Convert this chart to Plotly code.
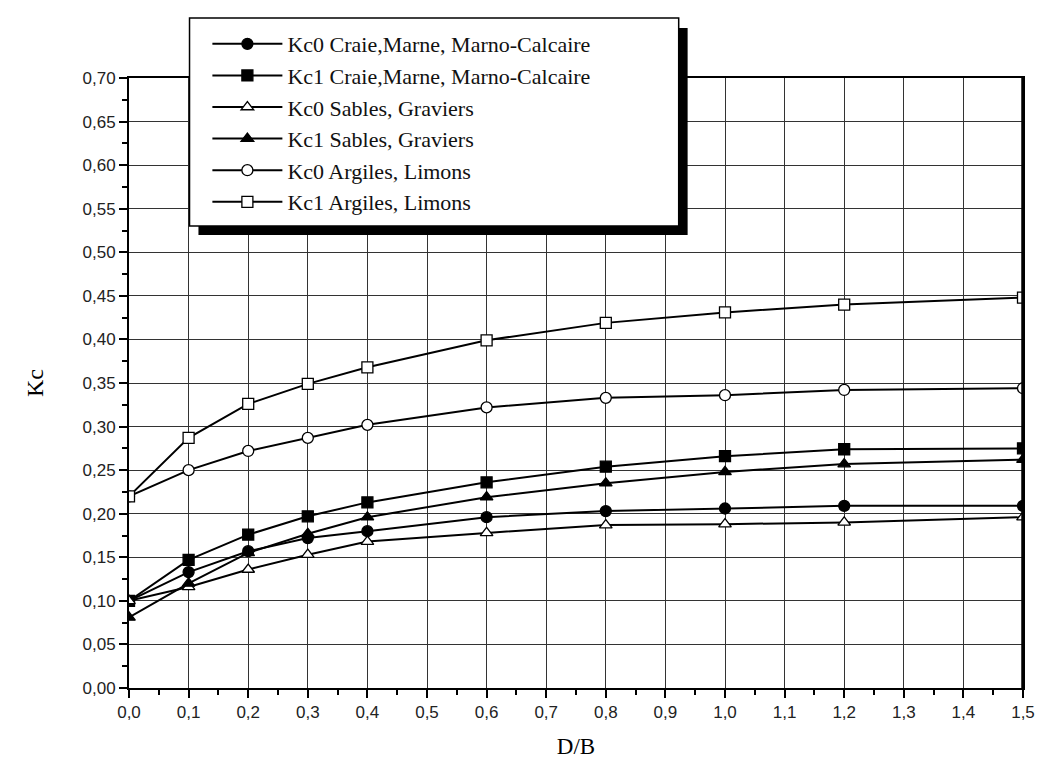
import plotly.graph_objects as go

x_db = [0.0, 0.1, 0.2, 0.3, 0.4, 0.6, 0.8, 1.0, 1.2, 1.5]

kc0_craie = [0.100, 0.133, 0.157, 0.172, 0.180, 0.196, 0.203, 0.206, 0.209, 0.209]
kc1_craie = [0.100, 0.147, 0.176, 0.197, 0.213, 0.236, 0.254, 0.266, 0.274, 0.275]
kc0_sables = [0.100, 0.116, 0.136, 0.153, 0.168, 0.178, 0.187, 0.188, 0.190, 0.196]
kc1_sables = [0.081, 0.120, 0.155, 0.177, 0.196, 0.219, 0.235, 0.248, 0.257, 0.262]
kc0_argiles = [0.220, 0.250, 0.272, 0.287, 0.302, 0.322, 0.333, 0.336, 0.342, 0.344]
kc1_argiles = [0.220, 0.287, 0.326, 0.349, 0.368, 0.399, 0.419, 0.431, 0.440, 0.448]

series = [
    ("Kc0 Craie,Marne, Marno-Calcaire", kc0_craie, "circle", "black"),
    ("Kc1 Craie,Marne, Marno-Calcaire", kc1_craie, "square", "black"),
    ("Kc0 Sables, Graviers", kc0_sables, "triangle-up", "white"),
    ("Kc1 Sables, Graviers", kc1_sables, "triangle-up", "black"),
    ("Kc0 Argiles, Limons", kc0_argiles, "circle", "white"),
    ("Kc1 Argiles, Limons", kc1_argiles, "square", "white"),
]

SERIF = "Liberation Serif, DejaVu Serif, serif"

fig = go.Figure()
for name, ys, sym, fill in series:
    fig.add_trace(go.Scatter(
        x=x_db, y=ys, name=name, mode="lines+markers",
        line=dict(color="black", width=2),
        marker=dict(symbol=sym, size=11, color=fill,
                    line=dict(color="black", width=1.3)),
    ))


def px_x(p):
    return (p - 129) / 901


def px_y(p):
    return (688 - p) / 610


# legend frame with drop shadow, and thick right border
fig.add_shape(type="rect", xref="paper", yref="paper",
              x0=px_x(199), x1=px_x(692), y0=px_y(235), y1=px_y(28),
              fillcolor="black", line=dict(width=0), layer="above")
fig.add_shape(type="rect", xref="paper", yref="paper",
              x0=px_x(190), x1=px_x(683), y0=px_y(226), y1=px_y(18),
              fillcolor="white", line=dict(color="black", width=1.5), layer="above")
fig.add_shape(type="line", xref="paper", yref="paper",
              x0=1, x1=1, y0=0, y1=1,
              line=dict(color="black", width=3.5), layer="above")

axis_common = dict(
    showgrid=True, gridcolor="#333333", gridwidth=1.3,
    showline=True, linecolor="black", linewidth=2, mirror=True,
    ticks="outside", ticklen=8, tickwidth=2, tickcolor="black",
    tickfont=dict(family="Liberation Sans, Arial, sans-serif", size=17, color="#222"),
    zeroline=False,
)

fig.update_layout(
    width=1047, height=770,
    margin=dict(l=129, r=17, t=78, b=82),
    paper_bgcolor="white", plot_bgcolor="white",
    separators=", ",
    font=dict(family=SERIF, color="black"),
    xaxis=dict(range=[0, 1.5], dtick=0.1, tickformat=".1f",
               minor=dict(dtick=0.05, ticks="outside", ticklen=5, tickwidth=2,
                          tickcolor="black", showgrid=False),
               title=dict(text="D/B", font=dict(size=23), standoff=16),
               **axis_common),
    yaxis=dict(range=[0, 0.7], dtick=0.05, tickformat=".2f",
               minor=dict(dtick=0.025, ticks="outside", ticklen=5, tickwidth=2,
                          tickcolor="black", showgrid=False),
               title=dict(text="Kc", font=dict(size=24), standoff=32),
               **axis_common),
    legend=dict(x=px_x(208), y=px_y(23),
                xanchor="left", yanchor="top",
                bgcolor="rgba(0,0,0,0)", borderwidth=0,
                font=dict(size=22, color="#111"),
                itemwidth=70, tracegroupgap=0),
    showlegend=True,
)

fig.write_html("out.html")
